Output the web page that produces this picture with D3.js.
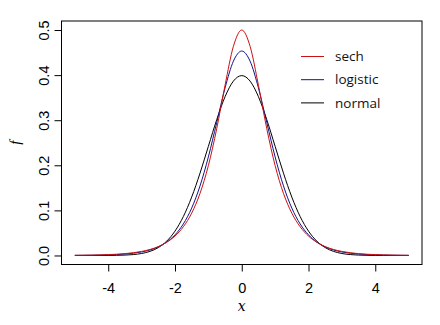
<!DOCTYPE html>
<html><head><meta charset="utf-8">
<script src="https://cdn.jsdelivr.net/npm/d3@7/dist/d3.min.js"></script>
<style>body{margin:0;background:#fff}svg{display:block}</style>
</head><body>
<svg id="c" width="440" height="325"></svg>
<script>
const xs = [-5,-4.75,-4.5,-4.25,-4,-3.75,-3.5,-3.25,-3,-2.75,-2.5,-2.25,-2,-1.75,-1.5,-1.25,-1,-0.75,-0.5,-0.25,0,
  0.25,0.5,0.75,1,1.25,1.5,1.75,2,2.25,2.5,2.75,3,3.25,3.5,3.75,4,4.25,4.5,4.75,5];
const sech = [0.00039,0.00058,0.00085,0.0013,0.0019,0.0028,0.0041,0.0061,0.0090,0.0133,0.0197,0.0292,0.0431,0.0637,0.0939,0.1377,0.1993,0.2812,0.3775,0.4638,0.5,
  0.4638,0.3775,0.2812,0.1993,0.1377,0.0939,0.0637,0.0431,0.0292,0.0197,0.0133,0.0090,0.0061,0.0041,0.0028,0.0019,0.0013,0.00085,0.00058,0.00039];
const logistic = [0.00021,0.00033,0.00052,0.00081,0.0013,0.0020,0.0032,0.0050,0.0078,0.0122,0.0191,0.0296,0.0457,0.0699,0.1051,0.1543,0.2186,0.2947,0.3716,0.4309,0.4534,
  0.4309,0.3716,0.2947,0.2186,0.1543,0.1051,0.0699,0.0457,0.0296,0.0191,0.0122,0.0078,0.0050,0.0032,0.0020,0.0013,0.00081,0.00052,0.00033,0.00021];
const normal = [0.0000015,0.00001,0.00002,0.00005,0.00013,0.00035,0.00087,0.0020,0.0044,0.0091,0.0175,0.0317,0.0540,0.0863,0.1295,0.1826,0.2420,0.3011,0.3521,0.3867,0.3989,
  0.3867,0.3521,0.3011,0.2420,0.1826,0.1295,0.0863,0.0540,0.0317,0.0175,0.0091,0.0044,0.0020,0.00087,0.00035,0.00013,0.00005,0.00002,0.00001,0.0000015];
const seriesNames = ["sech","logistic","normal"];
const seriesColors = ["#cc1111","#12128c","#000000"];
const xTicks = [-4,-2,0,2,4];
const yTicks = [0,0.1,0.2,0.3,0.4,0.5];

const svg = d3.select("#c");
const L = 61.5, R = 422, T = 21, B = 264.5;
const x = d3.scaleLinear().domain([-5.4,5.4]).range([L,R]);
const y = d3.scaleLinear().domain([-0.02,0.52]).range([B,T]);

const font = "'Liberation Sans', Arial, sans-serif";

// box
svg.append("rect").attr("x",L).attr("y",T).attr("width",R-L).attr("height",B-T)
  .attr("fill","none").attr("stroke","#000").attr("stroke-width",1);

// x axis
const xa = svg.append("g").attr("transform",`translate(0,${B})`)
  .call(d3.axisBottom(x).tickValues(xTicks).tickSize(7).tickSizeOuter(0).tickFormat(d=>String(d)));
xa.select(".domain").remove();
xa.selectAll("line").attr("stroke","#000");
xa.selectAll("text").attr("font-family",font).attr("font-size",14.5).attr("fill","#000").attr("dy","1.3em");

// y axis
const ya = svg.append("g").attr("transform",`translate(${L},0)`)
  .call(d3.axisLeft(y).tickValues(yTicks).tickSize(7).tickSizeOuter(0).tickFormat(d3.format(".1f")));
ya.select(".domain").remove();
ya.selectAll("line").attr("stroke","#000");
ya.selectAll("text").attr("font-family",font).attr("font-size",14.5).attr("fill","#000")
  .attr("x",0).attr("dy",0).attr("text-anchor","middle")
  .attr("transform","translate(-16,0) rotate(-90) translate(0,-0.5)")
  .attr("dominant-baseline","middle");

// axis titles
svg.append("text").attr("x",(x(0))).attr("y",311).attr("text-anchor","middle")
  .attr("font-family","'DejaVu Serif','Liberation Serif',serif").attr("font-style","italic").attr("font-size",14).text("x");
svg.append("text").attr("transform",`translate(20,${(T+B)/2}) rotate(-90)`).attr("text-anchor","middle")
  .attr("font-family","'Liberation Serif',serif").attr("font-style","italic").attr("font-size",15).text("f");

// curves
const data = [sech, logistic, normal];
const line = d3.line().x((d,i)=>x(xs[i])).y(d=>y(d)).curve(d3.curveMonotoneX);
[2,1,0].forEach(k=>{
  svg.append("path").datum(data[k]).attr("d",line).attr("fill","none")
    .attr("stroke",seriesColors[k]).attr("stroke-width",1);
});

// legend
const lg = svg.append("g");
seriesNames.forEach((n,i)=>{
  const yy = 56.5 + i*23.2;
  lg.append("line").attr("x1",301).attr("x2",324).attr("y1",yy).attr("y2",yy)
    .attr("stroke",seriesColors[i]).attr("stroke-width",1);
  lg.append("text").attr("x",335).attr("y",yy).attr("dy","0.35em")
    .attr("font-family","'Open Sans', sans-serif").attr("font-size",13.5).attr("fill","#111").text(n);
});
</script>
</body></html>
